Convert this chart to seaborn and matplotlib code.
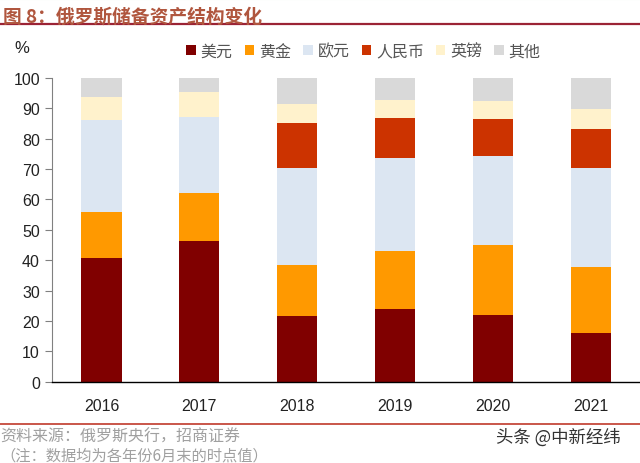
import pandas as pd
import numpy as np
import matplotlib
matplotlib.use("Agg")
import matplotlib.pyplot as plt
import seaborn as sns
from matplotlib.patches import Patch

years = ['2016', '2017', '2018', '2019', '2020', '2021']
usd = [40.7, 46.2, 21.6, 24.0, 21.9, 16.2]
gold = [15.3, 16.0, 16.9, 19.2, 23.1, 21.7]
eur = [30.3, 24.9, 31.9, 30.4, 29.2, 32.4]
cny = [0.0, 0.0, 14.7, 13.2, 12.2, 12.8]
gbp = [7.4, 8.3, 6.3, 6.0, 5.9, 6.5]
other = [6.3, 4.6, 8.6, 7.2, 7.7, 10.4]

series = ['美元', '黄金', '欧元', '人民币', '英镑', '其他']
colors = ['#800000', '#FF9900', '#DCE6F2', '#CC3300', '#FFF2CC', '#D9D9D9']

df = pd.DataFrame({'year': years, '美元': usd, '黄金': gold, '欧元': eur,
                   '人民币': cny, '英镑': gbp, '其他': other})

sns.set_style("white")
plt.rcParams['font.family'] = ['Liberation Sans', 'Noto Sans CJK SC', 'DejaVu Sans']

fig = plt.figure(figsize=(6.4, 4.64), dpi=100)
ax = fig.add_axes([0.082, 0.175, 0.918, 0.655])

bottom = np.zeros(len(years))
for name, c in zip(series, colors):
    sns.barplot(x='year', y=name, data=df, color=c, bottom=bottom, width=0.41,
                ax=ax, linewidth=0, saturation=1)
    bottom += df[name].values

ax.set_ylim(0, 100)
ax.set_xlim(-0.5, 5.5)
ax.set_yticks(range(0, 101, 10))
ax.set_xlabel('')
ax.set_ylabel('')
for s in ['top', 'right']:
    ax.spines[s].set_visible(False)
ax.spines['left'].set_color('#808080')
ax.spines['bottom'].set_color('black')
ax.spines['bottom'].set_linewidth(1.0)
ax.tick_params(axis='y', which='major', left=True, length=5, color='#808080',
               labelsize=11.5, labelcolor='#222222', pad=4)
ax.tick_params(axis='x', bottom=False, labelsize=11.5, labelcolor='#222222', pad=8)

fig.text(0.022, 0.885, '%', fontsize=12, color='#222222')

handles = [Patch(facecolor=c, edgecolor='none') for c in colors]
fig.legend(handles, series, loc='center', bbox_to_anchor=(0.568, 0.888), ncol=6,
           frameon=False, fontsize=11.5, handlelength=0.6, handleheight=0.6,
           handletextpad=0.3, columnspacing=0.75, labelcolor='#555555')

# header
fig.text(0.005, 0.963, '图 8：俄罗斯储备资产结构变化', fontsize=13.5, fontweight='bold',
         color='#B0563E', va='center', family=['Noto Sans CJK SC', 'DejaVu Sans'])
fig.add_artist(plt.Line2D([0, 1], [0.947, 0.947], color='#9B2335', lw=1.6))
fig.add_artist(plt.Line2D([0, 1], [0.999, 0.999], color='#E3EDE0', lw=1.5))

# footer
fig.add_artist(plt.Line2D([0, 1], [0.084, 0.084], color='#C0392B', lw=1.2))
fig.text(0.0, 0.058, '资料来源：俄罗斯央行，招商证券', fontsize=11.5, color='#A0A0A0',
         va='center', family=['Noto Sans CJK SC', 'DejaVu Sans'])
fig.text(0.0, 0.018, '（注：数据均为各年份6月末的时点值）', fontsize=11, color='#A0A0A0',
         va='center', family=['Noto Sans CJK SC', 'DejaVu Sans'])
fig.text(0.97, 0.056, '头条 @中新经纬', fontsize=12.5, color='#333333', ha='right',
         va='center', family=['Noto Sans CJK SC', 'DejaVu Sans'])

fig.savefig('out.png', dpi=100)
